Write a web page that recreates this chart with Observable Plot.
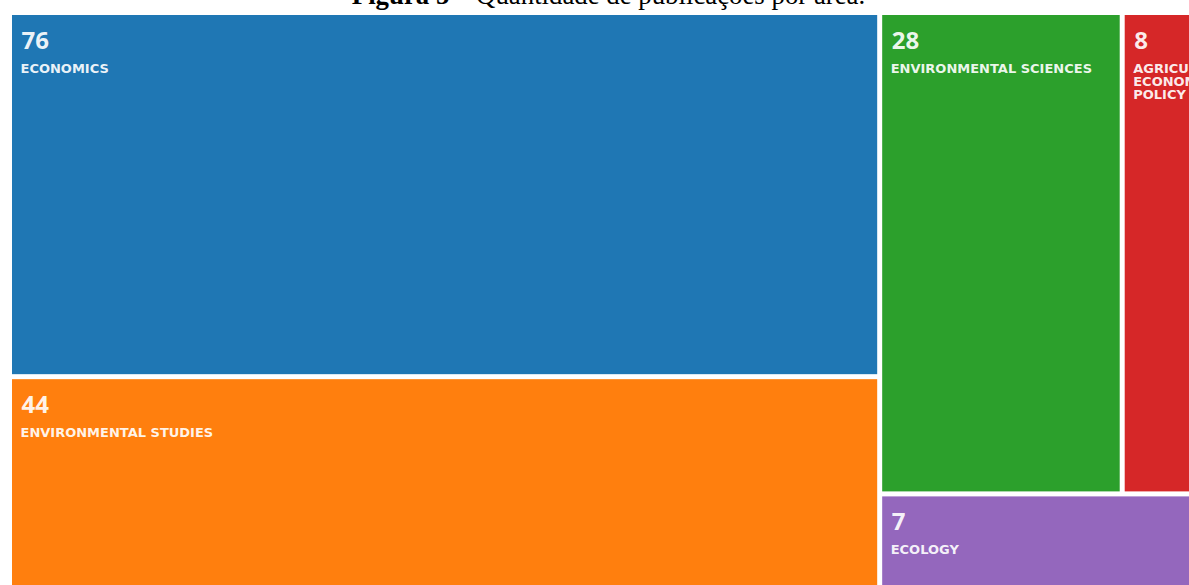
<!DOCTYPE html>
<html><head><meta charset="utf-8">
<script src="https://cdn.jsdelivr.net/npm/d3@7"></script>
<script src="https://cdn.jsdelivr.net/npm/@observablehq/plot@0.6"></script>
<style>
html,body{margin:0;padding:0;background:#fff;overflow:hidden;}
#wrap{position:relative;width:1189px;height:585px;overflow:hidden;}
#title{position:absolute;left:14px;width:1189px;top:-17.5px;text-align:center;font-family:"Liberation Serif","Times New Roman",serif;font-size:26.8px;line-height:24px;color:#000;white-space:nowrap;z-index:2;}
#chart svg{display:block;}
</style></head><body>
<div id="wrap"><div id="title"><b>Figura 5</b> – Quantidade de publicações por área.</div><div id="chart"></div></div>
<script>
const categories = ["ECONOMICS","ENVIRONMENTAL STUDIES","ENVIRONMENTAL SCIENCES","AGRICULTURAL ECONOMICS POLICY","ECOLOGY"];
const labels = ["ECONOMICS","ENVIRONMENTAL STUDIES","ENVIRONMENTAL SCIENCES","AGRICULTURAL\nECONOMICS\nPOLICY","ECOLOGY"];
const counts = [76, 44, 28, 8, 7];
const colors = ["#1f77b4","#ff7f0e","#2ca02c","#d62728","#9467bd"];

const W = 1177, H = 570;
const root = d3.hierarchy({children: categories.map((c, i) => ({name: c, label: labels[i], value: counts[i]}))})
  .sum(d => d.value || 0)
  .sort((a, b) => b.value - a.value);
d3.treemap().tile(d3.treemapSquarify.ratio(3)).size([W, H]).paddingInner(5).round(false)(root);
const cells = root.leaves().map(n => ({...n.data, x0: n.x0, x1: n.x1, y0: n.y0, y1: n.y1}));

const chart = Plot.plot({
  width: 1189, height: 585,
  marginLeft: 12, marginTop: 15, marginRight: 0, marginBottom: 0,
  x: {domain: [0, W], axis: null},
  y: {domain: [0, H], axis: null, reverse: true},
  color: {domain: categories, range: colors},
  style: {background: "white"},
  marks: [
    Plot.rect(cells, {x1: "x0", x2: "x1", y1: "y0", y2: "y1", fill: "name"}),
    Plot.text(cells, {x: "x0", y: "y0", text: d => String(d.value), dx: 9, dy: 16, textAnchor: "start", lineAnchor: "top",
      fill: "white", fillOpacity: 0.92, fontSize: 24, fontWeight: 700, fontFamily: "Open Sans"}),
    Plot.text(cells, {x: "x0", y: "y0", text: "label", dx: 8, dy: 48, textAnchor: "start", lineAnchor: "top",
      fill: "white", fillOpacity: 0.92, fontSize: 13, fontWeight: 700, fontFamily: "DejaVu Sans", lineHeight: 1.0})
  ]
});
document.getElementById("chart").appendChild(chart);
</script>
</body></html>
